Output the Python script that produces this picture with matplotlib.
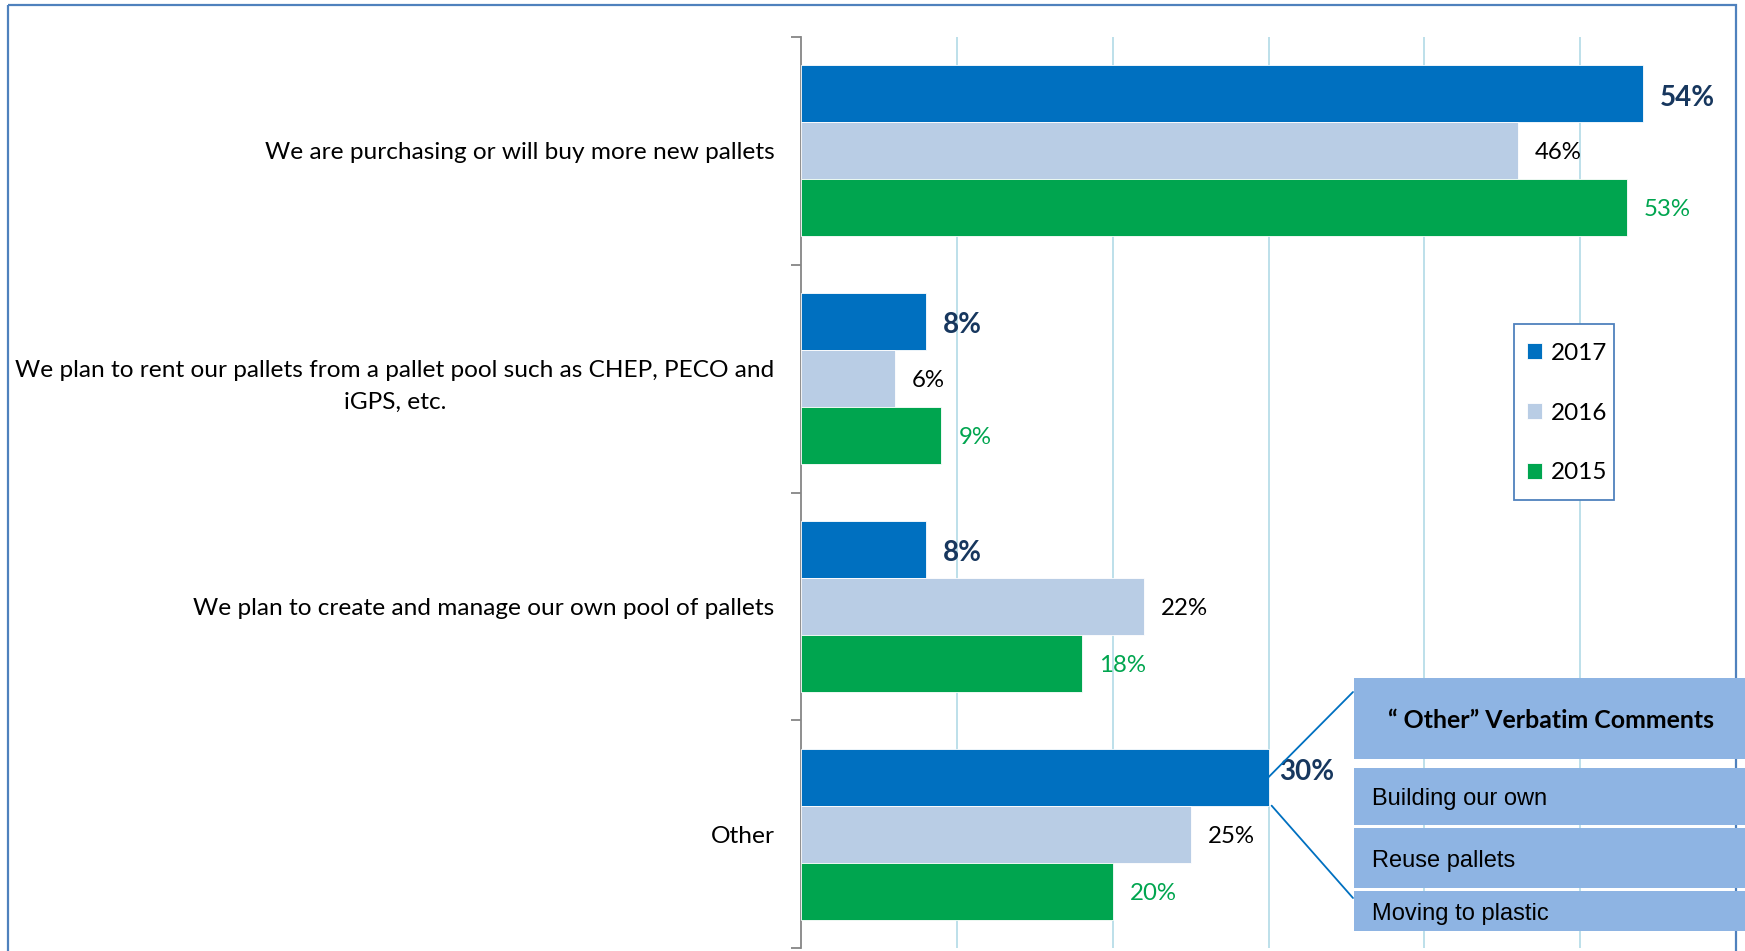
import matplotlib
matplotlib.use("Agg")
from matplotlib import pyplot as plt
from matplotlib.patches import Rectangle, ConnectionPatch
import numpy as np

categories = [
    "We are purchasing or will buy more new pallets",
    "We plan to rent our pallets from a pallet pool such as CHEP, PECO and\niGPS, etc.",
    "We plan to create and manage our own pool of pallets",
    "Other",
]
years = ["2017", "2016", "2015"]
vals_2017 = [54, 8, 8, 30]
vals_2016 = [46, 6, 22, 25]
vals_2015 = [53, 9, 18, 20]
other_comments = ["Building our own", "Reuse pallets", "Moving to plastic"]

colors = ["#0070C0", "#B9CDE5", "#00A54F"]
label_colors = ["#17375E", "#000000", "#00A54F"]

W, H = 1745, 951
fig = plt.figure(figsize=(W / 100, H / 100), dpi=100)
ax = fig.add_axes([801 / W, 1 - 948 / H, 935 / W, 911 / H])

y = np.arange(len(categories))
bh = 0.25
series = [vals_2017, vals_2016, vals_2015]
for i, (vals, yr) in enumerate(zip(series, years)):
    pos = y + (i - 1) * bh
    ax.barh(pos, vals, height=bh, color=colors[i], label=yr, zorder=3,
            edgecolor="white", linewidth=0.6)
    for j, (p, v) in enumerate(zip(pos, vals)):
        if i == 0:
            # the "Other" label sits a bit up, over the callout line
            dx, dy = (0.7, -0.035) if j == 3 else (1.1, 0.005)
            ax.text(v + dx, p + dy, "%d%%" % v, va="center_baseline", ha="left",
                    fontsize=20, fontweight="bold", color=label_colors[i],
                    family="Lato", zorder=5)
        else:
            ax.text(v + 1.1, p, "%d%%" % v, va="center_baseline", ha="left",
                    fontsize=17.3, color=label_colors[i], family="Lato", zorder=5)

ax.set_xlim(0, 60)
ax.set_ylim(3.5, -0.5)
ax.set_xticks(np.arange(10, 60, 10))
ax.xaxis.grid(True, color="#B7DDE8", linewidth=1.3, zorder=0)
ax.tick_params(axis="x", length=0, labelbottom=False)
ax.set_yticks(y)
ax.set_yticklabels(categories, fontsize=17.6, family="Lato",
                   linespacing=1.65, multialignment="center")
ax.set_yticks(np.arange(-0.5, 4, 1), minor=True)
ax.tick_params(axis="y", which="major", length=0, pad=19)
ax.tick_params(axis="y", which="minor", length=7, color="#868686", width=1.3)
for s in ["top", "right", "bottom"]:
    ax.spines[s].set_visible(False)
ax.spines["left"].set_color("#868686")
ax.spines["left"].set_linewidth(1.3)

# overlay in figure pixels for the legend, callout and outer frame
ov = fig.add_axes([0, 0, 1, 1], zorder=10)
ov.set_xlim(0, W)
ov.set_ylim(H, 0)
ov.axis("off")
ov.patch.set_alpha(0)

ov.add_patch(Rectangle((8.5, 5), 1727.5, 960, fill=False, edgecolor="#4F81BD",
                       linewidth=1.6, clip_on=False))

# legend
ov.add_patch(Rectangle((1514, 324), 100, 176, facecolor="white",
                       edgecolor="#4F81BD", linewidth=1.3, zorder=4))
handles, labels = ax.get_legend_handles_labels()
ov.legend(handles, labels, loc="center left",
          bbox_to_anchor=(1527 / W, 1 - 413 / H), bbox_transform=fig.transFigure,
          borderaxespad=0, borderpad=0, frameon=False,
          prop={"family": "Lato", "size": 17.5}, labelspacing=1.6,
          handlelength=0.6, handleheight=0.6, handletextpad=0.4)

box_col = "#8EB4E3"
ov.add_patch(Rectangle((1354, 678), 400, 81, facecolor=box_col, edgecolor="none"))
ov.text(1551, 721, "\u201c Other\u201d Verbatim Comments", ha="center", va="center",
        fontsize=17.9, fontweight="bold", family="Lato")
rows = [(768, 57), (828, 60), (891, 40)]
for (top, h), txt in zip(rows, other_comments):
    ov.add_patch(Rectangle((1354, top), 400, h, facecolor=box_col, edgecolor="none"))
    ov.text(1372, top + h / 2 + 3, txt, ha="left", va="center", fontsize=17,
            family="Liberation Sans")

c1 = ConnectionPatch(xyA=(vals_2017[3], 3 - bh), coordsA=ax.transData,
                     xyB=(1353, 692), coordsB=ov.transData,
                     color="#0070C0", linewidth=1.3, zorder=11)
c2 = ConnectionPatch(xyA=(vals_2017[3] + 0.2, 3 - bh / 2), coordsA=ax.transData,
                     xyB=(1353, 898), coordsB=ov.transData,
                     color="#0070C0", linewidth=1.3, zorder=11)
fig.add_artist(c1)
fig.add_artist(c2)

fig.savefig("out.png", dpi=100)
